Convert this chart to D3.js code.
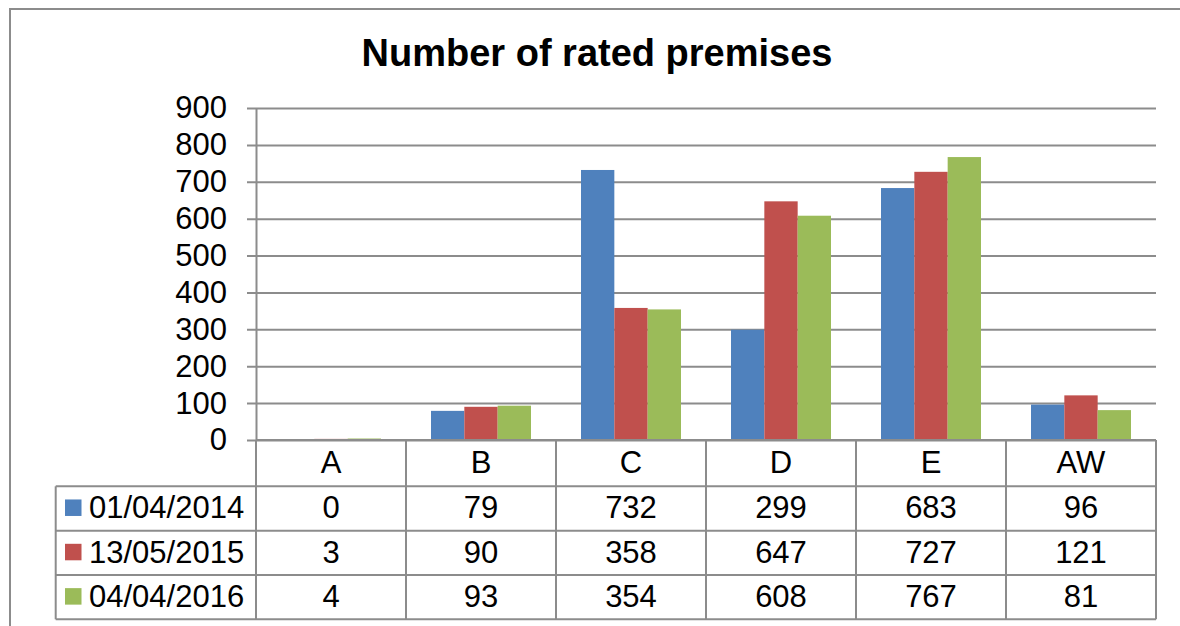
<!DOCTYPE html>
<html>
<head>
<meta charset="utf-8">
<script src="https://cdn.jsdelivr.net/npm/d3@7"></script>
<style>
  body { margin: 0; background: #fff; }
  svg { display: block; font-family: "Liberation Sans", Arial, sans-serif; }
</style>
</head>
<body>
<svg id="chart"></svg>
<script>
'use strict';

// data
const categories = ['A', 'B', 'C', 'D', 'E', 'AW'];
const seriesNames = ['01/04/2014', '13/05/2015', '04/04/2016'];
const values2014 = [0, 79, 732, 299, 683, 96];
const values2015 = [3, 90, 358, 647, 727, 121];
const values2016 = [4, 93, 354, 608, 767, 81];
const yTicks = [0, 100, 200, 300, 400, 500, 600, 700, 800, 900];
const colors = ['#4f81bd', '#c0504d', '#9bbb59'];

const series = seriesNames.map((name, i) => ({
  name: name,
  color: colors[i],
  values: [values2014, values2015, values2016][i]
}));

const W = 1180, H = 626;
const plot = { left: 256, right: 1156, top: 108, bottom: 440 };
const table = { left: 55.7, headerBottom: 486.3, bottom: 619.3 };
const gridColor = '#8c8c8c';

const svg = d3.select('#chart')
    .attr('width', W)
    .attr('height', H);

// outer chart border (runs off the right/bottom of the picture)
svg.append('rect')
    .attr('x', 10)
    .attr('y', 9)
    .attr('width', 1300)
    .attr('height', 800)
    .attr('fill', 'none')
    .attr('stroke', gridColor)
    .attr('stroke-width', 2);

svg.append('text')
    .attr('x', 597)
    .attr('y', 66)
    .attr('text-anchor', 'middle')
    .attr('font-size', 38)
    .attr('font-weight', 'bold')
    .text('Number of rated premises');

const x = d3.scaleBand()
    .domain(categories)
    .range([plot.left, plot.right]);

const xInner = d3.scaleBand()
    .domain(seriesNames)
    .range([25, x.bandwidth() - 25]);

const y = d3.scaleLinear()
    .domain([0, 900])
    .range([plot.bottom, plot.top]);

const yAxis = d3.axisLeft(y)
    .tickValues(yTicks)
    .tickSizeInner(-(plot.right - plot.left))
    .tickSizeOuter(0)
    .tickPadding(29);

const gy = svg.append('g')
    .attr('transform', `translate(${plot.left},0)`)
    .call(yAxis);

gy.select('.domain').attr('stroke', gridColor).attr('stroke-width', 2);
gy.selectAll('.tick line')
    .attr('x1', -9)
    .attr('stroke', gridColor)
    .attr('stroke-width', 2);
gy.selectAll('.tick text')
    .attr('font-size', 31)
    .attr('font-family', '"Liberation Sans", Arial, sans-serif')
    .attr('fill', '#000');

// bars
svg.append('g')
  .selectAll('g')
  .data(series)
  .enter().append('g')
    .attr('fill', d => d.color)
  .selectAll('rect')
  .data(d => d.values.map((v, i) => ({ cat: categories[i], s: d.name, v: v })))
  .enter().append('rect')
    .attr('x', d => x(d.cat) + xInner(d.s))
    .attr('y', d => y(d.v))
    .attr('width', xInner.bandwidth())
    .attr('height', d => y(0) - y(d.v));

// data table
const row = d3.scaleBand()
    .domain(seriesNames)
    .range([table.headerBottom, table.bottom]);

const tg = svg.append('g')
    .attr('stroke', gridColor)
    .attr('stroke-width', 2);

tg.selectAll('line.v')
  .data(d3.range(categories.length + 1))
  .enter().append('line')
    .attr('x1', i => plot.left + i * x.bandwidth())
    .attr('x2', i => plot.left + i * x.bandwidth())
    .attr('y1', plot.bottom)
    .attr('y2', table.bottom);

tg.append('line')
    .attr('x1', table.left).attr('x2', table.left)
    .attr('y1', table.headerBottom).attr('y2', table.bottom);

tg.append('line')
    .attr('x1', plot.left).attr('x2', plot.right)
    .attr('y1', plot.bottom).attr('y2', plot.bottom);

tg.selectAll('line.h')
  .data([table.headerBottom].concat(seriesNames.map(s => row(s) + row.bandwidth())))
  .enter().append('line')
    .attr('x1', table.left).attr('x2', plot.right)
    .attr('y1', d => d).attr('y2', d => d);

// header labels
svg.append('g')
  .selectAll('text')
  .data(categories)
  .enter().append('text')
    .attr('x', d => x(d) + x.bandwidth() / 2)
    .attr('y', (plot.bottom + table.headerBottom) / 2 - 1)
    .attr('dy', '0.35em')
    .attr('text-anchor', 'middle')
    .attr('font-size', 31)
    .text(d => d);

// rows
const rows = svg.append('g')
  .selectAll('g')
  .data(series)
  .enter().append('g')
    .attr('transform', d => `translate(0,${row(d.name) + row.bandwidth() / 2 - 1})`);

rows.append('rect')
    .attr('x', 65)
    .attr('y', -8)
    .attr('width', 16.5)
    .attr('height', 16.5)
    .attr('fill', d => d.color);

rows.append('text')
    .attr('x', 89)
    .attr('dy', '0.35em')
    .attr('font-size', 31)
    .text(d => d.name);

rows.selectAll('text.val')
  .data(d => d.values.map((v, i) => ({ cat: categories[i], v: v })))
  .enter().append('text')
    .attr('class', 'val')
    .attr('x', d => x(d.cat) + x.bandwidth() / 2)
    .attr('dy', '0.35em')
    .attr('text-anchor', 'middle')
    .attr('font-size', 31)
    .text(d => d.v);
</script>
</body>
</html>
